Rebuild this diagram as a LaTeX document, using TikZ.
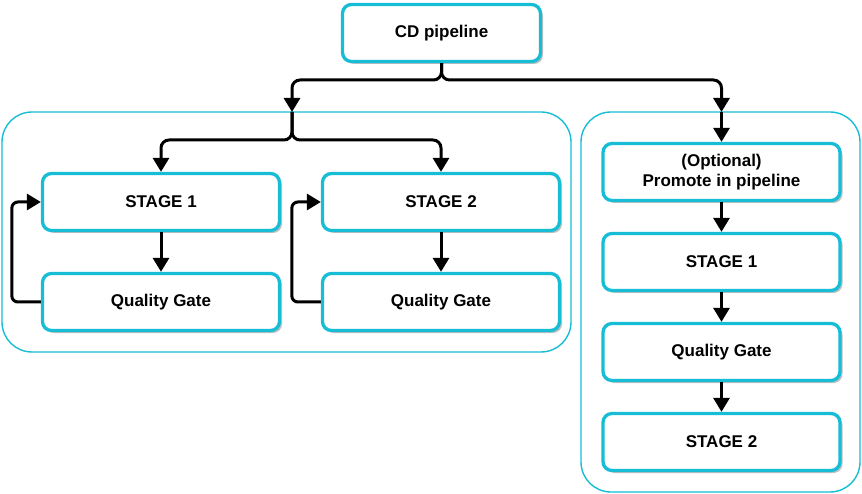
\documentclass[tikz,border=0pt]{standalone}
\usepackage{fontspec}
\setmainfont{Liberation Sans}
\usetikzlibrary{arrows.meta,shadows}
\definecolor{cyanb}{RGB}{22,189,212}
\tikzset{
  box/.style={draw=cyanb, line width=3.3pt, rounded corners=9pt, fill=white,
    minimum width=237pt, minimum height=57pt, inner sep=0pt, align=center,
    font=\fontsize{17}{20}\selectfont\bfseries,
    drop shadow={shadow xshift=2.5pt, shadow yshift=-2.5pt, opacity=0.25, fill=black}},
  cont/.style={draw=cyanb, line width=1.4pt, rounded corners=30pt, inner sep=0pt},
  arr/.style={draw=black, line width=3pt, rounded corners=8pt,
    -{Triangle[length=14pt,width=16pt]}},
}
\begin{document}
\begin{tikzpicture}[x=1pt,y=-1pt]
\useasboundingbox (0,0) rectangle (862,494);
% containers
\node[cont, minimum width=569pt, minimum height=240pt] (lc) at (286.5,232) {};
\node[cont, minimum width=279pt, minimum height=380pt] (rc) at (720.5,302) {};
% boxes
\node[box, minimum width=198pt] (cd) at (441.5,33) {CD pipeline};
\node[box] (s1) at (161,202) {STAGE 1};
\node[box] (q1) at (161,302) {Quality Gate};
\node[box] (s2) at (441,202) {STAGE 2};
\node[box] (q2) at (441,302) {Quality Gate};
\node[box] (opt) at (721.5,172) {(Optional)\\Promote in pipeline};
\node[box] (rs1) at (721.5,262) {STAGE 1};
\node[box] (rq) at (721.5,352) {Quality Gate};
\node[box] (rs2) at (721.5,442) {STAGE 2};
% coordinates
\coordinate (lin) at (292,112);
\coordinate (rin) at (721.5,112);
\coordinate (fy) at (441.5,80);
\coordinate (gy) at (292,140);
% connectors
\draw[arr] (cd.south) |- (fy -| lin) -- (lin);
\draw[arr] (cd.south) |- (fy -| rin) -- (rin);
\draw[arr] (lin) |- (gy -| s1.north) -- (s1.north);
\draw[arr] (lin) |- (gy -| s2.north) -- (s2.north);
\draw[arr] (rin) -- (opt.north);
\draw[arr] (s1.south) -- (q1.north);
\draw[arr] (s2.south) -- (q2.north);
\draw[arr] (opt.south) -- (rs1.north);
\draw[arr] (rs1.south) -- (rq.north);
\draw[arr] (rq.south) -- (rs2.north);
\draw[arr, rounded corners=6pt] (q1.west) -- ++(-29,0) |- (s1.west);
\draw[arr, rounded corners=6pt] (q2.west) -- ++(-29,0) |- (s2.west);
\end{tikzpicture}
\end{document}
